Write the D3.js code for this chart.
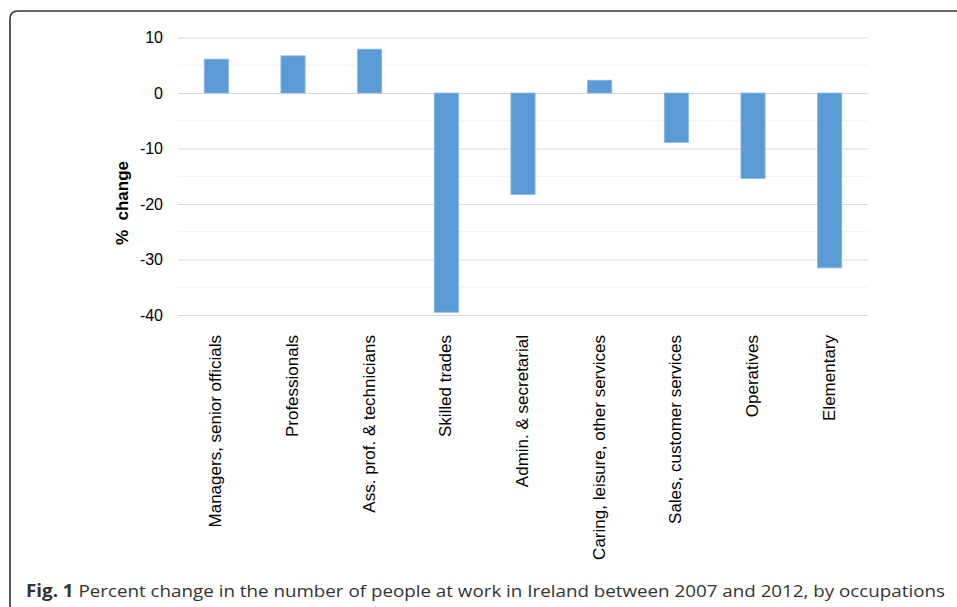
<!DOCTYPE html>
<html>
<head>
<meta charset="utf-8">
<script src="https://cdn.jsdelivr.net/npm/d3@7"></script>
<style>
  body { margin: 0; background: #fff; }
  svg { display: block; }
</style>
</head>
<body>
<div id="chart-area"></div>
<script>
const categories = [
  "Managers, senior officials",
  "Professionals",
  "Ass. prof. & technicians",
  "Skilled trades",
  "Admin. & secretarial",
  "Caring, leisure, other services",
  "Sales, customer services",
  "Operatives",
  "Elementary"
];
const values = [6.1, 6.7, 7.9, -39.5, -18.3, 2.3, -8.9, -15.4, -31.5];
const yTicks = [10, 0, -10, -20, -30, -40];
const yMinorTicks = [5, -5, -15, -25, -35];

const W = 957, H = 607;
const margin = { top: 37.5, right: 89, bottom: 292, left: 178 };
const width = W - margin.left - margin.right;
const height = H - margin.top - margin.bottom;

const svg = d3.select("#chart-area")
  .append("svg")
  .attr("width", W)
  .attr("height", H);

// frame with rounded corner
svg.append("path")
  .attr("d", `M10,${H + 5} L10,19 Q10,11 18,11 L${W + 5},11`)
  .attr("fill", "none")
  .attr("stroke", "#333")
  .attr("stroke-width", 1.6);

const g = svg.append("g")
  .attr("transform", `translate(${margin.left}, ${margin.top})`);

const x = d3.scaleBand()
  .domain(categories)
  .range([0, width])
  .paddingInner(0.685)
  .paddingOuter(0.3425);

const y = d3.scaleLinear()
  .domain([-40, 10])
  .range([height, 0]);

// minor gridlines
g.append("g")
  .selectAll("line")
  .data(yMinorTicks)
  .enter()
  .append("line")
  .attr("x1", 0)
  .attr("x2", width)
  .attr("y1", d => y(d))
  .attr("y2", d => y(d))
  .attr("stroke", "#f2f2f2")
  .attr("stroke-width", 1);

// major gridlines + labels
const yAxis = d3.axisLeft(y)
  .tickValues(yTicks)
  .tickSize(-width)
  .tickFormat(d => String(d));

const ya = g.append("g").call(yAxis);
ya.select(".domain").remove();
ya.selectAll(".tick line")
  .attr("stroke", "#d9d9d9")
  .attr("stroke-width", 1.2);
ya.selectAll(".tick text")
  .attr("font-family", "'Liberation Sans', Arial, sans-serif")
  .attr("font-size", "16px")
  .attr("fill", "#000")
  .attr("x", -15);

g.selectAll("rect.bar")
  .data(values)
  .enter()
  .append("rect")
  .attr("class", "bar")
  .attr("x", (d, i) => x(categories[i]))
  .attr("y", d => y(Math.max(0, d)))
  .attr("width", x.bandwidth())
  .attr("height", d => Math.abs(y(d) - y(0)))
  .attr("fill", "#5b9bd5")
  .attr("stroke", "#8ab8e4")
  .attr("stroke-width", 0.8);

// category labels
g.append("g")
  .selectAll("text")
  .data(categories)
  .enter()
  .append("text")
  .attr("transform", d => `translate(${x(d) + x.bandwidth() / 2 - 1}, ${height + 20}) rotate(-90)`)
  .attr("text-anchor", "end")
  .attr("dy", "0.35em")
  .attr("font-family", "'Liberation Sans', Arial, sans-serif")
  .attr("font-size", "17px")
  .attr("fill", "#000")
  .text(d => d);

// y title
svg.append("text")
  .attr("transform", "rotate(-90)")
  .attr("x", -203)
  .attr("y", 128)
  .attr("text-anchor", "middle")
  .attr("font-family", "'Liberation Sans', Arial, sans-serif")
  .attr("font-size", "17px")
  .attr("font-weight", "bold")
  .attr("xml:space", "preserve")
  .text("%  change");

// caption
const cap = svg.append("text")
  .attr("x", 26)
  .attr("y", 597)
  .attr("font-family", "'Open Sans', sans-serif")
  .attr("font-size", "17px")
  .attr("fill", "#333");
cap.append("tspan").attr("font-weight", "bold").text("Fig. 1");
cap.append("tspan").text(" Percent change in the number of people at work in Ireland between 2007 and 2012, by occupations");
cap.attr("textLength", 919).attr("lengthAdjust", "spacingAndGlyphs");
</script>
</body>
</html>
